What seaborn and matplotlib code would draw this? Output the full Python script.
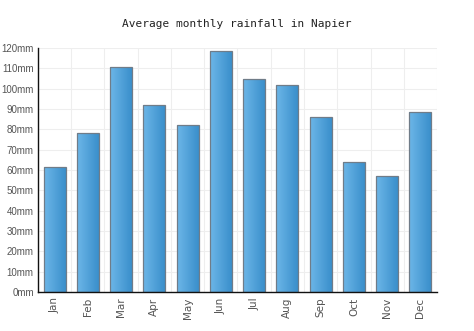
import matplotlib
matplotlib.use("Agg")
import matplotlib.pyplot as plt
import seaborn as sns
import numpy as np
import pandas as pd
from matplotlib.ticker import FuncFormatter
from matplotlib.colors import LinearSegmentedColormap

months = ["Jan", "Feb", "Mar", "Apr", "May", "Jun", "Jul", "Aug", "Sep", "Oct", "Nov", "Dec"]
rainfall = [61.6, 78.4, 110.8, 91.8, 82.1, 118.5, 104.8, 101.6, 86.2, 63.9, 57.0, 88.7]
yticks = list(range(0, 121, 10))

df = pd.DataFrame({"month": months, "rain": rainfall})

sns.set_theme(style="white")
fig = plt.figure(figsize=(4.74, 3.31), dpi=100)
ax = fig.add_axes([0.080, 0.118, 0.842, 0.737])

sns.barplot(data=df, x="month", y="rain", ax=ax, color="#4a9fd8", width=0.66,
            edgecolor="#707c88", linewidth=0.9, saturation=1)

# gradient fill
grad = np.linspace(0, 1, 64).reshape(1, -1)
cmap = LinearSegmentedColormap.from_list("g", ["#6cb6e8", "#3a8fcb"])
for p in ax.patches:
    x0, y0 = p.get_x(), p.get_y()
    w, h = p.get_width(), p.get_height()
    im = ax.imshow(grad, extent=[x0, x0 + w, y0, y0 + h], aspect="auto", cmap=cmap,
                   zorder=p.get_zorder() + 0.01, origin="lower")
    im.set_clip_path(p)
    p.set_facecolor("none")
    p.set_zorder(im.get_zorder() + 0.1)

ax.set_xlim(-0.5, len(months) - 0.5)
ax.set_ylim(0, 120)
ax.set_yticks(yticks)
ax.yaxis.set_major_formatter(FuncFormatter(lambda v, _: f"{int(v)}mm"))
ax.set_xticks(range(len(months)))
ax.set_xticklabels(months, rotation=90)
ax.set_xlabel("")
ax.set_ylabel("")
ax.set_xticks(np.arange(-0.5, len(months), 1), minor=True)
ax.grid(True, axis="y", which="major", color="#eeeeee", linewidth=0.8)
ax.grid(True, axis="x", which="minor", color="#eeeeee", linewidth=0.8)
ax.set_axisbelow(True)
for s in ["top", "right"]:
    ax.spines[s].set_visible(False)
for s in ["left", "bottom"]:
    ax.spines[s].set_color("#111111")
    ax.spines[s].set_linewidth(1.0)
ax.tick_params(axis="y", which="both", length=0, labelsize=7, labelcolor="#555555", pad=3)
ax.tick_params(axis="x", which="both", length=0, labelsize=7.5, labelcolor="#555555", pad=4)
for lab in ax.get_yticklabels():
    lab.set_family("Liberation Sans")
for lab in ax.get_xticklabels():
    lab.set_family("DejaVu Sans")
fig.text(0.5, 0.927, "Average monthly rainfall in Napier", ha="center", va="center",
         fontsize=8, family="DejaVu Sans Mono", color="#222222")

fig.savefig("out.png", dpi=100, facecolor="white")
